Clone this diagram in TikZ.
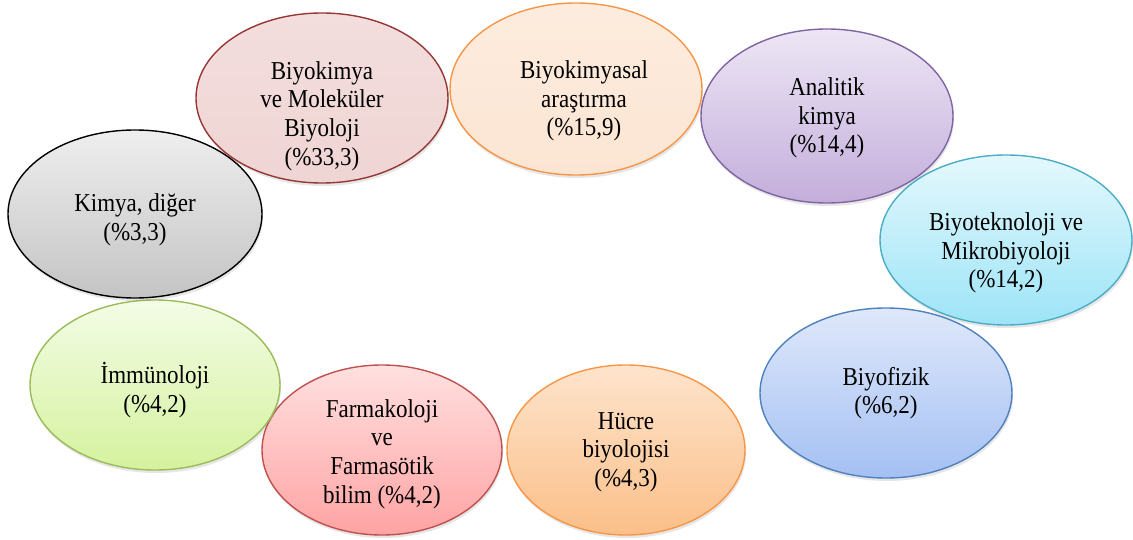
\documentclass[tikz,border=0pt]{standalone}
\usepackage{fontspec}
\setmainfont{Liberation Serif}
\usetikzlibrary{shapes.geometric, shadows}

% Colours of the bubbles: line, top, bottom
\definecolor{bkmLine}{HTML}{953735}
\definecolor{bkmTop}{HTML}{F3DEDD}
\definecolor{bkmBot}{HTML}{EFD5D4}
\definecolor{bksLine}{HTML}{F79646}
\definecolor{bksTop}{HTML}{FDECDE}
\definecolor{bksBot}{HTML}{FCE5D3}
\definecolor{anlLine}{HTML}{8064A2}
\definecolor{anlTop}{HTML}{EDE6F5}
\definecolor{anlBot}{HTML}{C3AEDB}
\definecolor{btkLine}{HTML}{4BACC6}
\definecolor{btkTop}{HTML}{E4F8FD}
\definecolor{btkBot}{HTML}{9DE4F7}
\definecolor{bfzLine}{HTML}{4F81BD}
\definecolor{bfzTop}{HTML}{DFE8FA}
\definecolor{bfzBot}{HTML}{A4C0F3}
\definecolor{hcrLine}{HTML}{F79646}
\definecolor{hcrTop}{HTML}{FEE4CC}
\definecolor{hcrBot}{HTML}{FBBF89}
\definecolor{frmLine}{HTML}{C0504D}
\definecolor{frmTop}{HTML}{FFE0E0}
\definecolor{frmBot}{HTML}{FFA3A3}
\definecolor{imnLine}{HTML}{9BBB59}
\definecolor{imnTop}{HTML}{F3FCE6}
\definecolor{imnBot}{HTML}{D5F29E}
\definecolor{kimLine}{HTML}{000000}
\definecolor{kimTop}{HTML}{EEEEEE}
\definecolor{kimBot}{HTML}{C4C4C4}

\begin{document}
\begin{tikzpicture}[x=1pt, y=-1pt]

  % Styles for the bubbles and their texts
  \tikzset{
    bubble/.style n args={3}{
      ellipse, draw=#1, line width=1.4pt,
      top color=#2, bottom color=#3,
      inner sep=0pt,
      drop shadow={shadow xshift=1pt, shadow yshift=-3pt, opacity=0.2}
    },
    bubbletext/.style={
      align=center, inner sep=0pt,
      font=\fontsize{23}{25.5}\selectfont,
      yscale=1.12, transform shape
    }
  }

  \useasboundingbox (0,0) rectangle (1133,540);

  % Bubbles, clockwise from the top left
  \node[bubble={bkmLine}{bkmTop}{bkmBot}, minimum width=252pt, minimum height=170pt] (bkm) at (322,98) {};
  \node[bubble={bksLine}{bksTop}{bksBot}, minimum width=252pt, minimum height=172pt] (bks) at (576,89) {};
  \node[bubble={anlLine}{anlTop}{anlBot}, minimum width=252pt, minimum height=174pt] (anl) at (827,116) {};
  \node[bubble={btkLine}{btkTop}{btkBot}, minimum width=252pt, minimum height=170pt] (btk) at (1006,240) {};
  \node[bubble={bfzLine}{bfzTop}{bfzBot}, minimum width=252pt, minimum height=170pt] (bfz) at (886,393) {};
  \node[bubble={hcrLine}{hcrTop}{hcrBot}, minimum width=238pt, minimum height=170pt] (hcr) at (626,450) {};
  \node[bubble={frmLine}{frmTop}{frmBot}, minimum width=240pt, minimum height=170pt] (frm) at (382,450) {};
  \node[bubble={imnLine}{imnTop}{imnBot}, minimum width=250pt, minimum height=170pt] (imn) at (155,385) {};
  \node[bubble={kimLine}{kimTop}{kimBot}, minimum width=254pt, minimum height=168pt] (kim) at (135,214) {};

  % Texts
  \node[bubbletext] (bkm-t) at ([yshift=-18pt]bkm.center) {Biyokimya\\ve Moleküler\\Biyoloji\\(\%33,3)};
  \node[bubbletext] (bks-t) at ([xshift=8pt, yshift=-12pt]bks.center) {Biyokimyasal\\araştırma\\(\%15,9)};
  \node[bubbletext] (anl-t) at ([yshift=-2pt]anl.center) {Analitik\\kimya\\(\%14,4)};
  \node[bubbletext] (btk-t) at ([yshift=-13pt]btk.center) {Biyoteknoloji ve\\Mikrobiyoloji\\(\%14,2)};
  \node[bubbletext] (bfz-t) at (bfz.center) {Biyofizik\\(\%6,2)};
  \node[bubbletext] (hcr-t) at ([yshift=-2pt]hcr.center) {Hücre\\biyolojisi\\(\%4,3)};
  \node[bubbletext] (frm-t) at ([yshift=-4pt]frm.center) {Farmakoloji\\ve\\Farmasötik\\bilim (\%4,2)};
  \node[bubbletext] (imn-t) at ([yshift=-5pt]imn.center) {İmmünoloji\\(\%4,2)};
  \node[bubbletext] (kim-t) at ([yshift=-6pt]kim.center) {Kimya, diğer\\(\%3,3)};

\end{tikzpicture}
\end{document}
